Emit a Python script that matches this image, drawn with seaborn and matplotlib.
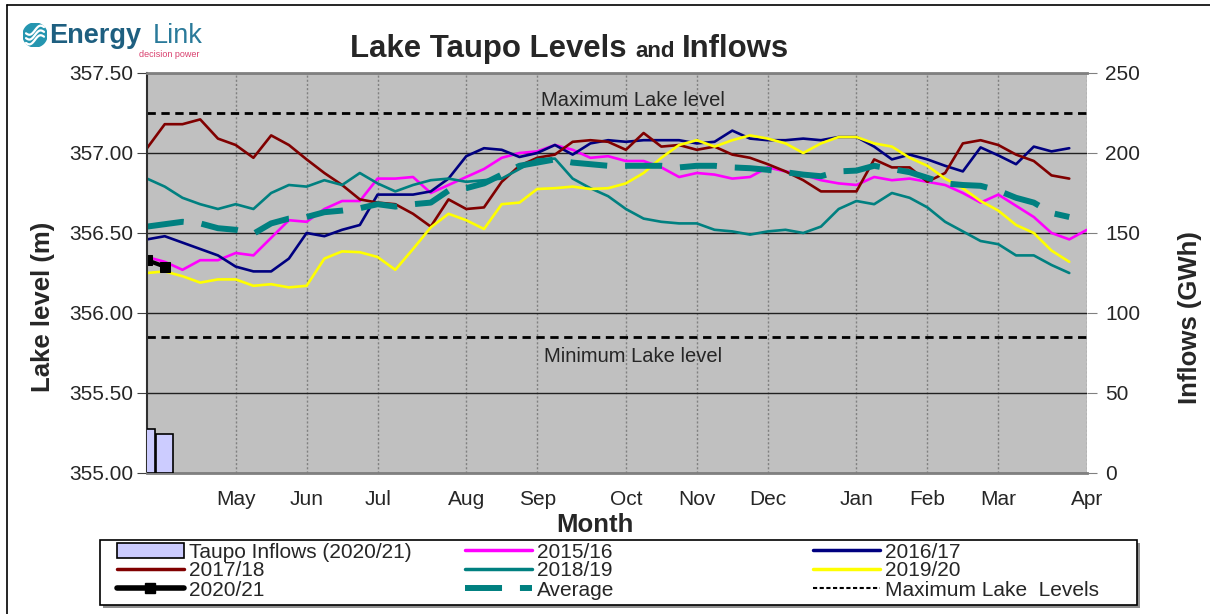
import matplotlib
matplotlib.use("Agg")
import matplotlib.pyplot as plt
from matplotlib.lines import Line2D
from matplotlib.patches import Patch, Circle, Rectangle
import numpy as np
import seaborn as sns

# month labels sit on week numbers (week 0 = start of April)
months = ["May", "Jun", "Jul", "Aug", "Sep", "Oct", "Nov", "Dec", "Jan", "Feb", "Mar", "Apr"]
month_weeks = [5, 9, 13, 18, 22, 27, 31, 35, 40, 44, 48, 53]

# weekly lake levels (m)
lvl_1516 = [356.35, 356.32, 356.27, 356.33, 356.33, 356.375, 356.36, 356.47, 356.58, 356.57,
            356.65, 356.70, 356.70, 356.84, 356.84, 356.85, 356.75, 356.80, 356.85, 356.90,
            356.97, 357.00, 357.01, 357.05, 357.02, 356.97, 356.98, 356.95, 356.95, 356.91,
            356.85, 356.875, 356.865, 356.84, 356.85, 356.91, 356.885, 356.865, 356.83, 356.81,
            356.80, 356.85, 356.83, 356.84, 356.82, 356.80, 356.75, 356.69, 356.74, 356.67,
            356.60, 356.50, 356.46, 356.52]
lvl_1617 = [356.46, 356.48, 356.44, 356.40, 356.36, 356.29, 356.26, 356.26, 356.34, 356.50,
            356.48, 356.52, 356.55, 356.74, 356.74, 356.74, 356.76, 356.84, 356.98, 357.03,
            357.02, 356.975, 357.00, 357.05, 356.99, 357.06, 357.08, 357.07, 357.08, 357.08,
            357.08, 357.06, 357.07, 357.14, 357.09, 357.08, 357.08, 357.09, 357.08, 357.10,
            357.10, 357.04, 356.96, 356.99, 356.96, 356.92, 356.885, 357.035, 356.985, 356.93,
            357.04, 357.01, 357.03]
lvl_1718 = [357.03, 357.18, 357.18, 357.21, 357.09, 357.05, 356.97, 357.11, 357.05, 356.96,
            356.875, 356.80, 356.71, 356.69, 356.68, 356.62, 356.54, 356.71, 356.65, 356.66,
            356.82, 356.92, 356.97, 356.99, 357.07, 357.08, 357.07, 357.02, 357.125, 357.04,
            357.05, 357.02, 357.04, 356.99, 356.97, 356.93, 356.885, 356.83, 356.76, 356.76,
            356.76, 356.96, 356.91, 356.91, 356.82, 356.875, 357.06, 357.08, 357.05, 356.99,
            356.95, 356.86, 356.84]
lvl_1819 = [356.84, 356.79, 356.72, 356.68, 356.65, 356.68, 356.65, 356.75, 356.80, 356.79,
            356.83, 356.80, 356.875, 356.81, 356.76, 356.80, 356.83, 356.84, 356.82, 356.83,
            356.84, 356.90, 356.96, 356.965, 356.84, 356.78, 356.73, 356.65, 356.59, 356.57,
            356.56, 356.56, 356.52, 356.51, 356.49, 356.51, 356.52, 356.50, 356.54, 356.65,
            356.70, 356.68, 356.75, 356.72, 356.66, 356.57, 356.51, 356.45, 356.43, 356.36,
            356.36, 356.30, 356.25]
lvl_1920 = [356.25, 356.26, 356.23, 356.19, 356.21, 356.21, 356.17, 356.18, 356.16, 356.17,
            356.34, 356.385, 356.38, 356.35, 356.27, 356.40, 356.535, 356.62, 356.58, 356.525,
            356.68, 356.69, 356.775, 356.78, 356.79, 356.775, 356.78, 356.81, 356.875, 356.97,
            357.05, 357.08, 357.04, 357.08, 357.11, 357.09, 357.06, 357.00, 357.06, 357.10,
            357.10, 357.06, 357.04, 356.97, 356.92, 356.84, 356.78, 356.70, 356.64, 356.55,
            356.50, 356.39, 356.32]
lvl_avg = [356.54, 356.555, 356.57, 356.56, 356.53, 356.52, 356.495, 356.56, 356.59, 356.60,
           356.63, 356.64, 356.655, 356.68, 356.665, 356.68, 356.69, 356.765, 356.78, 356.81,
           356.865, 356.92, 356.94, 356.96, 356.94, 356.93, 356.92, 356.92, 356.92, 356.92,
           356.91, 356.92, 356.92, 356.91, 356.905, 356.895, 356.88, 356.865, 356.855, 356.885,
           356.89, 356.92, 356.90, 356.88, 356.845, 356.81, 356.80, 356.795, 356.765, 356.72,
           356.69, 356.625, 356.60]
lvl_2021 = [356.33, 356.29]

# weekly Taupo inflows 2020/21 (GWh)
inflow_2021 = [27.3, 24.6]

max_level = 357.25
min_level = 355.85

series = [
    ("2015/16", lvl_1516, "#FF00FF"),
    ("2016/17", lvl_1617, "#000080"),
    ("2017/18", lvl_1718, "#800000"),
    ("2018/19", lvl_1819, "#008080"),
    ("2019/20", lvl_1920, "#FFFF00"),
]
avg_dash = (0, (6.2, 3.0))

sns.set_style("white")
plt.rcParams['font.family'] = ['Liberation Sans', 'DejaVu Sans']

W, H = 1210, 614
fig = plt.figure(figsize=(W / 100, H / 100), dpi=100)
ax = fig.add_axes([147 / W, 1 - 473 / H, 940 / W, 400 / H])
ax.set_facecolor("#C0C0C0")
ax2 = ax.twinx()

# inflow bars on the right axis
sns.barplot(x=list(range(len(inflow_2021))), y=inflow_2021, native_scale=True, width=0.95,
            color="#CCCCFF", saturation=1, edgecolor="black", linewidth=1.2,
            errorbar=None, ax=ax2)

# lake level lines
for name, vals, col in series:
    sns.lineplot(x=np.arange(len(vals)), y=vals, color=col, lw=1.9, ax=ax)
sns.lineplot(x=np.arange(len(lvl_avg)), y=lvl_avg, color="#008080", lw=4.3,
             linestyle=avg_dash, ax=ax)
sns.lineplot(x=np.arange(len(lvl_2021)), y=lvl_2021, color="black", lw=3, marker="s",
             markersize=7, markeredgecolor="black", ax=ax)

ax.axhline(max_level, color="black", lw=2, ls=(0, (3, 2)))
ax.axhline(min_level, color="black", lw=2, ls=(0, (3, 2)))
ax.text(27.4, 357.33, "Maximum Lake level", ha="center", va="center", fontsize=14.5)
ax.text(27.4, 355.73, "Minimum Lake level", ha="center", va="center", fontsize=14.5)

# axes
ax.set_xlim(0, 53)
ax.set_ylim(355.0, 357.5)
ax2.set_ylim(0, 250)
ax.set_yticks([355.0, 355.5, 356.0, 356.5, 357.0, 357.5])
ax.set_yticklabels([f"{v:.2f}" for v in ax.get_yticks()], fontsize=15)
ax2.set_yticks([0, 50, 100, 150, 200, 250])
ax2.set_yticklabels(["0", "50", "100", "150", "200", "250"], fontsize=15)
ax.set_xticks(month_weeks)
ax.set_xticklabels(months, fontsize=15)
ax.set_xticks(np.arange(0, 54), minor=True)
ax.tick_params(axis="x", which="both", length=5, color="#808080", pad=7)
ax.tick_params(axis="y", length=7, color="#404040", pad=3)
ax2.tick_params(axis="y", length=7, color="#808080", pad=6)

ax.set_axisbelow(True)
ax.yaxis.grid(True, color="#202020", lw=1)
ax.xaxis.grid(True, which="major", color="#808080", lw=1, ls=(0, (1.5, 1.5)))
for sp in ["top", "bottom"]:
    ax.spines[sp].set_color("#808080")
    ax.spines[sp].set_linewidth(2)
ax.spines["left"].set_color("#303030")
ax.spines["left"].set_linewidth(1.5)
ax.spines["right"].set_visible(False)
for sp in ax2.spines.values():
    sp.set_visible(False)

ax.set_xlabel("Month", fontsize=18.5, fontweight="bold")
ax.xaxis.set_label_coords(0.477, -0.10)
ax.set_ylabel("Lake level (m)", fontsize=18.5, fontweight="bold")
ax.yaxis.set_label_coords(-0.098, 0.415)
ax2.set_ylabel("Inflows (GWh)", fontsize=18.5, fontweight="bold")
ax2.yaxis.set_label_coords(1.0965, 0.3875)

# legend: a framed box with three single-column legends inside
fig.add_artist(Rectangle((103 / W, 1 - 608 / H), 1037 / W, 65 / H, transform=fig.transFigure,
                         facecolor="#909090", edgecolor="none", zorder=3))
fig.add_artist(Rectangle((100 / W, 1 - 605 / H), 1037 / W, 65 / H, transform=fig.transFigure,
                         facecolor="white", edgecolor="black", lw=1.2, zorder=3))
h_bar = Patch(facecolor="#CCCCFF", edgecolor="black", lw=1.2)
h_lines = {name: Line2D([], [], color=col, lw=2.5) for name, vals, col in series}
h_2021 = Line2D([], [], color="black", lw=4, marker="s", markersize=7)
h_avg = Line2D([], [], color="#008080", lw=4.3, ls=avg_dash)
h_max = Line2D([], [], color="black", lw=1.5, ls=(0, (2, 1.2)))
legend_cols = [
    (117, [h_bar, h_lines["2017/18"], h_2021], ["Taupo Inflows (2020/21)", "2017/18", "2020/21"]),
    (465, [h_lines["2015/16"], h_lines["2018/19"], h_avg], ["2015/16", "2018/19", "Average"]),
    (813, [h_lines["2016/17"], h_lines["2019/20"], h_max], ["2016/17", "2019/20", "Maximum Lake  Levels"]),
]
for xpos, hs, ls in legend_cols:
    lg = fig.legend(hs, ls, loc="center left", bbox_to_anchor=(xpos / W, 1 - 571 / H),
                    frameon=False, borderpad=0, borderaxespad=0, fontsize=15,
                    handlelength=3.2, handletextpad=0.25, labelspacing=0.0)
    lg.set_zorder(4)

# title with a smaller "and"
r = fig.canvas.get_renderer()
x0, yb = 350, 1 - 57 / H
t1 = fig.text(x0 / W, yb, "Lake Taupo Levels", fontsize=22.4, fontweight="bold", va="baseline")
w1 = t1.get_window_extent(r).width
t2 = fig.text((x0 + w1 + 9) / W, yb, "and", fontsize=16, fontweight="bold", va="baseline")
w2 = t2.get_window_extent(r).width
fig.text((x0 + w1 + w2 + 16) / W, yb, "Inflows", fontsize=22.4, fontweight="bold", va="baseline")

# logo
lax = fig.add_axes([23 / W, 1 - 47 / H, 24 / W, 24 / H])
lax.set_xlim(-1, 1)
lax.set_ylim(-1, 1)
lax.set_aspect("equal")
lax.axis("off")
lax.add_patch(Circle((0, 0), 1, color="#2596B0"))
tt = np.linspace(-0.75, 0.75, 40)
for off in [-0.4, 0.0, 0.4]:
    lax.plot(tt, off + 0.25 * np.sin(tt * 4) + 0.3 * tt, color="white", lw=1.6)
fig.text(49 / W, 1 - 43 / H, "Energy", fontsize=19.5, fontweight="bold", color="#1E5F80", va="baseline")
fig.text(153 / W, 1 - 43 / H, "Link", fontsize=19.5, color="#2A7A9A", va="baseline")
fig.text(199 / W, 1 - 50 / H, "decision power", fontsize=6.5, color="#D9406E", ha="right", va="top")

# outer frame edges
fig.add_artist(Line2D([7 / W, 7 / W], [0, 1 - 5 / H], color="black", lw=1.2))
fig.add_artist(Line2D([7 / W, 1], [1 - 5 / H, 1 - 5 / H], color="black", lw=1.2))

fig.savefig("out.png", dpi=100)
